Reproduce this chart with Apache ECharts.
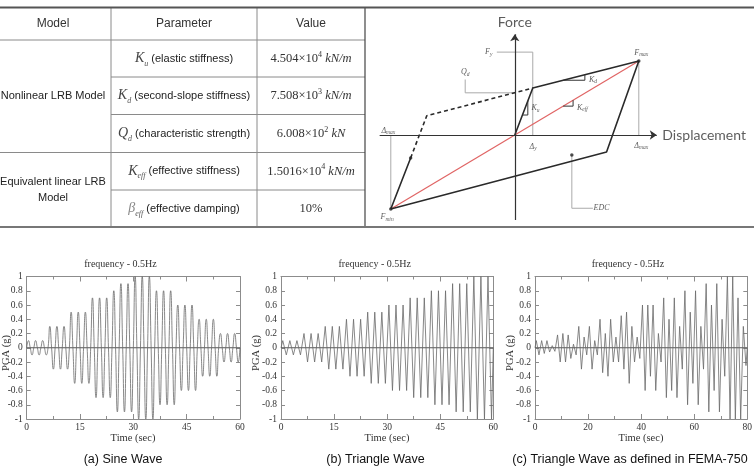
<!DOCTYPE html>
<html>
<head>
<meta charset="utf-8">
<script src="https://cdn.jsdelivr.net/npm/echarts@6/dist/echarts.min.js"></script>
<style>
html, body { margin: 0; padding: 0; background: #fff; }
#chart { width: 754px; height: 470px; }
</style>
</head>
<body>
<div id="chart"></div>
<script>
// ---- table content ----
const tableHeader = ['Model', 'Parameter', 'Value'];
const modelNames = ['Nonlinear LRB Model', 'Equivalent linear LRB\nModel'];
const paramSymbol = ['K', 'K', 'Q', 'K', 'β'];
const paramSub = ['u', 'd', 'd', 'eff', 'eff'];
const paramName = ['elastic stiffness', 'second-slope stiffness', 'characteristic strength', 'effective stiffness', 'effective damping'];
const valueMantissa = ['4.504', '7.508', '6.008', '1.5016', '10%'];
const valueExp = ['4', '3', '2', '4', ''];
const valueUnit = ['kN/m', 'kN/m', 'kN', 'kN/m', ''];

// ---- hysteresis diagram (displacement / force, normalised to max) ----
const loopSolid = [[0, 0], [0.145, 0.635], [1, 1], [0.74, -0.23], [-1, -1], [-0.84, -0.31]];
const loopDashed = [[-0.84, -0.31], [-0.71, 0.26], [0.145, 0.635]];
const keffLine = [[-1, -1], [1, 1]];
const leaderLines = [
    [[-0.145, 1.12], [0.145, 1.12], [0.145, 0]],
    [[-0.40, 0.75], [-0.40, 0.57], [0, 0.57]],
    [[-1, 0], [-1, -1]],
    [[1, 1], [1, 0]],
    [[0.46, -0.27], [0.46, -0.99], [0.63, -0.99]]
];
const slopeMarks = [
    [[0.39, 0.74], [0.565, 0.74], [0.565, 0.815]],
    [[0.39, 0.39], [0.47, 0.39], [0.47, 0.47]],
    [[0.062, 0.27], [0.105, 0.27], [0.105, 0.46]]
];
const axisArrows = [[[-1.09, 0], [1.145, 0]], [[0, -1.15], [0, 1.36]]];
const loopDots = [[-0.84, -0.31], [0.46, -0.27], [1, 1], [-1, -1]];
const diagLabelPos = [[0, 1.52], [1.19, 0], [-0.21, 1.12], [-0.40, 0.85], [1.02, 1.11], [-1.03, -1.11],
    [-1.02, 0.06], [0.148, -0.16], [1.02, -0.145], [0.167, 0.36], [0.63, 0.75], [0.545, 0.37], [0.70, -0.99]];
const diagLabelText = ['{f|Force}', '{f|Displacement}', '{i|F}{s|y}', '{i|Q}{s|d}', '{i|F}{s|max}', '{i|F}{s|min}',
    '{i|Δ}{s|max}', '{i|Δ}{s|y}', '{i|Δ}{s|max}', '{i|K}{s|u}', '{i|K}{s|d}', '{i|K}{s|eff}', '{i|EDC}'];

// ---- waveforms: peak values, one every half period (0.5 Hz) ----
const sinePeaks = [
    0.1, -0.1, 0.1, -0.1, 0.1, -0.1,
    0.3, -0.3, 0.3, -0.3, 0.3, -0.3,
    0.5, -0.5, 0.5, -0.5, 0.5, -0.5,
    0.7, -0.7, 0.7, -0.7, 0.7, -0.7,
    0.8, -0.9, 0.9, -0.9, 0.9, -0.9,
    1.0, -1.0, 1.0, -1.0, 1.0, -1.0,
    0.8, -0.8, 0.8, -0.8, 0.8, -0.8,
    0.6, -0.6, 0.6, -0.6, 0.6, -0.6,
    0.4, -0.4, 0.4, -0.4, 0.4, -0.4,
    0.2, -0.2, 0.2, -0.2, 0.2, -0.2
];
const trianglePeaks = [
    0.1, -0.1, 0.1, -0.1, 0.1, -0.1,
    0.2, -0.2, 0.2, -0.2, 0.2, -0.2,
    0.3, -0.3, 0.3, -0.3, 0.3, -0.3,
    0.4, -0.4, 0.4, -0.4, 0.4, -0.4,
    0.5, -0.5, 0.5, -0.5, 0.5, -0.5,
    0.6, -0.6, 0.6, -0.6, 0.6, -0.6,
    0.7, -0.7, 0.7, -0.7, 0.7, -0.7,
    0.8, -0.8, 0.8, -0.8, 0.8, -0.8,
    0.9, -0.9, 0.9, -0.9, 0.9, -0.9,
    1.0, -1.0, 1.0, -1.0, 1.0, -1.0
];
const femaPeaks = [
    0.1, -0.1, 0.1, -0.08, 0.1, -0.06, 0.03,
    -0.05, 0.18, -0.2, 0.2, -0.2, 0.18, -0.15, 0.05,
    -0.1, 0.3, -0.3, 0.15, -0.1, 0.3, -0.3, 0.1,
    -0.1, 0.4, -0.35, 0.2, -0.4, 0.4, -0.2, 0.15,
    -0.2, 0.45, -0.3, 0.5, -0.5, 0.3, -0.2, 0.15,
    -0.15, 0.6, -0.6, 0.6, -0.4, 0.6, -0.6, 0.2,
    -0.2, 0.7, -0.7, 0.4, -0.6, 0.7, -0.7, 0.3,
    -0.3, 0.8, -0.8, 0.5, -0.5, 0.8, -0.8, 0.3,
    -0.3, 0.9, -0.9, 0.6, -0.6, 0.9, -0.9, 0.4,
    -0.4, 1.0, -1.0, 1.0, -1.0, 0.7, -1.0, 0.3, -0.25
];
const panelTitles = ['frequency - 0.5Hz', 'frequency - 0.5Hz', 'frequency - 0.5Hz'];
const panelCaptions = ['(a) Sine Wave', '(b) Triangle Wave', '(c) Triangle Wave as defined in FEMA-750'];
const panelTimeMax = [60, 60, 80];
const panelTimeStep = [15, 15, 20];

// layout
const colX = [0, 111, 257, 365];
const rowY = [7.5, 40, 77, 114.5, 152.5, 190, 227];
const panelLeft = [26.7, 281, 535];
const panelWidth = [213.3, 212.3, 212.3];
const panelTop = 276.5, panelHeight = 142.5;
const serif = '"Liberation Serif", "DejaVu Serif", serif';
const sans = '"Liberation Sans", Arial, sans-serif';

function wavePoints(peaks, tMax, zeros) {
    let pts = [[0, 0]];
    peaks.forEach((v, k) => {
        pts.push([k + 0.5, v]);
        if (zeros) pts.push([k + 1, 0]);
    });
    if (!zeros) pts.push([tMax, 0]);
    return pts;
}

let graphic = [];
function line(x1, y1, x2, y2, color, w) {
    graphic.push({type: 'line', silent: true, shape: {x1: x1, y1: y1, x2: x2, y2: y2},
        style: {stroke: color, lineWidth: w}});
}
function text(x, y, str, extra, rotation) {
    let style = Object.assign({
        text: str, x: 0, y: 0, fill: '#222', fontSize: 11, fontFamily: sans,
        align: 'center', verticalAlign: 'middle', textAlign: 'center', textVerticalAlign: 'middle'
    }, extra || {});
    graphic.push({type: 'text', silent: true, x: x, y: y, rotation: rotation || 0, style: style});
}

// table grid lines
const gridGray = '#8a8a8a';
line(0, rowY[1], colX[3], rowY[1], gridGray, 1);
[2, 3, 5].forEach(r => line(colX[1], rowY[r], colX[3], rowY[r], gridGray, 1));
line(0, rowY[4], colX[3], rowY[4], gridGray, 1);
line(colX[1], rowY[0], colX[1], rowY[6], gridGray, 1);
line(colX[2], rowY[0], colX[2], rowY[6], gridGray, 1);
line(colX[3], rowY[0], colX[3], rowY[6], '#444', 1.2);
line(0, rowY[0], 754, rowY[0], '#555', 2);
line(0, rowY[6], 754, rowY[6], '#777', 2);

// table text
const headX = [53, 184, 311];
tableHeader.forEach((h, i) => text(headX[i], 24, h, {fontSize: 12, fill: '#333'}));
text(53, 96, modelNames[0], {fontSize: 11});
text(53, 190, modelNames[1], {fontSize: 11, lineHeight: 16});
const mathRich = {
    m: {fontFamily: serif, fontStyle: 'italic', fontSize: 14, fill: '#444', lineHeight: 18},
    b: {fontFamily: serif, fontStyle: 'italic', fontSize: 14, fill: '#888', lineHeight: 18},
    s: {fontFamily: serif, fontStyle: 'italic', fontSize: 8, fill: '#555', lineHeight: 8, verticalAlign: 'bottom'},
    t: {fontFamily: sans, fontSize: 11, fill: '#222', lineHeight: 18},
    n: {fontFamily: serif, fontSize: 12.5, fill: '#333', lineHeight: 16},
    p: {fontFamily: serif, fontSize: 8, fill: '#333', lineHeight: 9, verticalAlign: 'top'},
    u: {fontFamily: serif, fontStyle: 'italic', fontSize: 12.5, fill: '#333', lineHeight: 16}
};
for (let r = 0; r < paramName.length; ++r) {
    let cy = (rowY[r + 1] + rowY[r + 2]) / 2;
    let sym = paramSymbol[r] === 'β' ? 'b' : 'm';
    text(184, cy, '{' + sym + '|' + paramSymbol[r] + '}{s|' + paramSub[r] + '}{t| (' + paramName[r] + ')}', {rich: mathRich});
    let v = valueExp[r] ? '{n|' + valueMantissa[r] + '×10}{p|' + valueExp[r] + '}{u| ' + valueUnit[r] + '}'
        : '{n|' + valueMantissa[r] + '}';
    text(311, cy, v, {rich: mathRich});
}

// bottom panel texts
const titleX = [120.5, 374.7, 628];
const timeX = [133, 387, 641];
const pgaX = [6, 256, 510];
const captionX = [123, 375.5, 630];
for (let i = 0; i < 3; ++i) {
    text(titleX[i], 264.5, panelTitles[i], {fontFamily: serif, fontSize: 10, fill: '#333'});
    text(timeX[i], 438.5, 'Time (sec)', {fontFamily: serif, fontSize: 10.5, fill: '#333'});
    text(pgaX[i], 353, 'PGA (g)', {fontFamily: serif, fontSize: 10.5, fill: '#333'}, Math.PI / 2);
    text(captionX[i], 460, panelCaptions[i], {fontFamily: sans, fontSize: 12.5, fill: '#111'});
}

// ---- option ----
let grids = [{left: 366, top: 16.6, width: 372, height: 207.2, outerBoundsMode: 'none'}];
let xAxes = [{type: 'value', gridIndex: 0, min: -1.2, max: 1.8, show: false}];
let yAxes = [{type: 'value', gridIndex: 0, min: -1.2, max: 1.6, show: false}];
let series = [];

function diagLine(data, color, width, type) {
    series.push({
        type: 'line', xAxisIndex: 0, yAxisIndex: 0, data: data, symbol: 'none', silent: true,
        lineStyle: {color: color, width: width, type: type || 'solid'}, z: 3
    });
}
leaderLines.forEach(l => diagLine(l, '#aaa', 1));
diagLine(keffLine, '#e06464', 1.2);
diagLine(loopSolid, '#2a2a2a', 1.6);
diagLine(loopDashed, '#2a2a2a', 1.6, [4, 3]);
slopeMarks.forEach(l => diagLine(l, '#333', 1));
series.push({
    type: 'lines', coordinateSystem: 'cartesian2d', xAxisIndex: 0, yAxisIndex: 0,
    symbol: ['none', 'arrow'], symbolSize: 7, silent: true,
    lineStyle: {color: '#333', width: 1.2, opacity: 1, curveness: 0},
    data: axisArrows.map(c => ({coords: c})), z: 4
});
series.push({
    type: 'scatter', xAxisIndex: 0, yAxisIndex: 0, data: loopDots, symbolSize: 3.5,
    itemStyle: {color: '#222'}, silent: true, z: 5
});
series.push({
    type: 'scatter', xAxisIndex: 0, yAxisIndex: 0, symbolSize: 1, silent: true, z: 6,
    itemStyle: {color: 'rgba(0,0,0,0)'},
    label: {
        show: true, position: 'inside',
        rich: {
            f: {fontFamily: 'Lato, sans-serif', fontSize: 14, color: '#333'},
            i: {fontFamily: serif, fontStyle: 'italic', fontSize: 8, color: '#333', lineHeight: 10},
            s: {fontFamily: serif, fontStyle: 'italic', fontSize: 5.5, color: '#333', lineHeight: 5, verticalAlign: 'bottom'}
        }
    },
    data: diagLabelPos.map((p, i) => ({
        value: p,
        label: {formatter: diagLabelText[i], align: i === 1 ? 'left' : 'center'}
    }))
});

const axisGray = '#8c8c8c';
const allPeaks = [sinePeaks, trianglePeaks, femaPeaks];
for (let i = 0; i < 3; ++i) {
    grids.push({left: panelLeft[i], top: panelTop, width: panelWidth[i], height: panelHeight, outerBoundsMode: 'none'});
    let gi = i + 1;
    let xCommon = {
        type: 'value', gridIndex: gi, min: 0, max: panelTimeMax[i], interval: panelTimeStep[i],
        axisLine: {show: true, onZero: false, lineStyle: {color: axisGray, width: 1}},
        axisTick: {show: true, inside: true, length: 5, lineStyle: {color: axisGray}},
        minorTick: {show: true, splitNumber: 2, length: 3, lineStyle: {color: axisGray}},
        splitLine: {show: false}
    };
    xAxes.push(Object.assign({}, xCommon, {
        position: 'bottom',
        axisLabel: {margin: 3, fontFamily: serif, fontSize: 9.5, color: '#333'}
    }));
    xAxes.push(Object.assign({}, xCommon, {position: 'top', axisLabel: {show: false}}));
    let yCommon = {
        type: 'value', gridIndex: gi, min: -1, max: 1, interval: 0.2,
        axisLine: {show: true, onZero: false, lineStyle: {color: axisGray, width: 1}},
        axisTick: {show: true, inside: true, length: 4, lineStyle: {color: axisGray}},
        splitLine: {show: false}
    };
    yAxes.push(Object.assign({}, yCommon, {
        position: 'left',
        axisLabel: {margin: 4, fontFamily: serif, fontSize: 9.5, color: '#333'}
    }));
    yAxes.push(Object.assign({}, yCommon, {position: 'right', axisLabel: {show: false}}));

    let xi = 1 + 2 * i;
    series.push({
        type: 'line', xAxisIndex: xi, yAxisIndex: xi, symbol: 'none', silent: true,
        data: [[0, 0], [panelTimeMax[i], 0]],
        lineStyle: {color: '#555', width: 1}
    });
    series.push({
        type: 'line', xAxisIndex: xi, yAxisIndex: xi, symbol: 'none', silent: true,
        data: wavePoints(allPeaks[i], panelTimeMax[i], i === 0),
        smooth: i === 0 ? 0.55 : false,
        lineStyle: {color: '#6a6a6a', width: 0.8}
    });
}

let chart = echarts.init(document.getElementById('chart'));
chart.setOption({
    animation: false,
    backgroundColor: '#fff',
    grid: grids,
    xAxis: xAxes,
    yAxis: yAxes,
    series: series,
    graphic: graphic
});
</script>
</body>
</html>
